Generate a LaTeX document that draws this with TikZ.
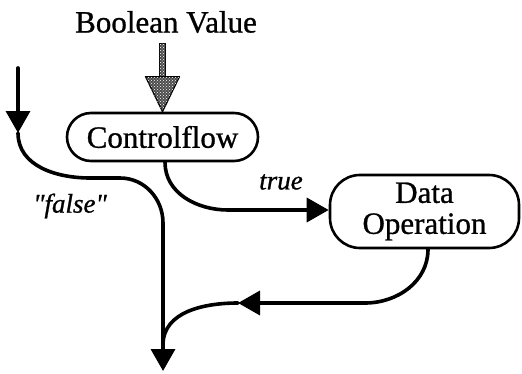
\documentclass[tikz,border=0pt]{standalone}
\usepackage{fontspec}
\setmainfont{Liberation Serif}[FakeBold=0.9]
\usetikzlibrary{arrows.meta,patterns,calc}
\tikzset{
  box/.style={draw, line width=2.6pt, rounded corners=#1, inner sep=0pt,
              font=\fontsize{31}{33}\selectfont, align=center},
  flow/.style={line width=3.6pt, line cap=round},
  head/.style={-{Triangle[length=22pt,width=24pt]}},
  lab/.style={font=\fontsize{27}{30}\selectfont\itshape},
  stipple/.style={fill=black!70, postaction={pattern=crosshatch dots, pattern color=white}, draw}
}
\begin{document}
\begin{tikzpicture}[x=1pt,y=1pt]
  \useasboundingbox (0,0) rectangle (522,373);

  % nodes
  \node[font=\fontsize{31}{33}\selectfont] (bv) at (166,351) {Boolean Value};
  \node[box=24pt, minimum width=191pt, minimum height=48pt] (cf) at (162.5,236) {Controlflow};
  \node[box=30pt, minimum width=189pt, minimum height=73pt] (dop) at (424.5,161.5) {Data\\[-2pt]Operation};
  \node[lab] at (281,191) {true};
  \node[lab] at (70,167) {\textquotedbl false\textquotedbl};

  % stippled input arrow from the boolean value
  \coordinate (st) at (162,330);
  \coordinate (hb) at ($(cf.north)+(0,35)$);
  \path[stipple, line width=0.8pt]
    ($(st)+(-2.6,0)$) rectangle ($(hb)+(2.6,0)$);
  \path[stipple, line width=1.2pt, line join=round]
    ($(hb)+(-17,0)$) -- ($(hb)+(17,0)$) -- (cf.north) -- cycle;

  % incoming control flow on the left, the "false" branch
  \coordinate (in) at (18,305);
  \coordinate (ih) at (18,240);
  \coordinate (fa) at (90,195);
  \coordinate (fb) at (120,195);
  \coordinate (fv) at (163,150);
  \coordinate (out) at (163,2);
  \draw[flow, head] (in) -- (ih);
  \draw[flow, head] (ih) to[out=-90,in=180] (fa) -- (fb) to[out=0,in=90] (fv) -- (out);

  % "true" branch into the data operation
  \coordinate (ts) at ($(cf.south)+(2.5,0)$);
  \coordinate (tc) at (228,163);
  \draw[flow, head] (ts) to[out=-90,in=180] (tc) -- (dop.west |- tc);

  % return from the data operation
  \coordinate (rs) at ($(dop.south)+(3.5,0)$);
  \coordinate (rc) at (365,70);
  \coordinate (ra) at (238,70);
  \coordinate (rj) at (163,28);
  \draw[flow, head] (rs) to[out=-90,in=0] (rc) -- (ra);
  \draw[flow] (ra) to[out=180,in=90] (rj);
\end{tikzpicture}
\end{document}
